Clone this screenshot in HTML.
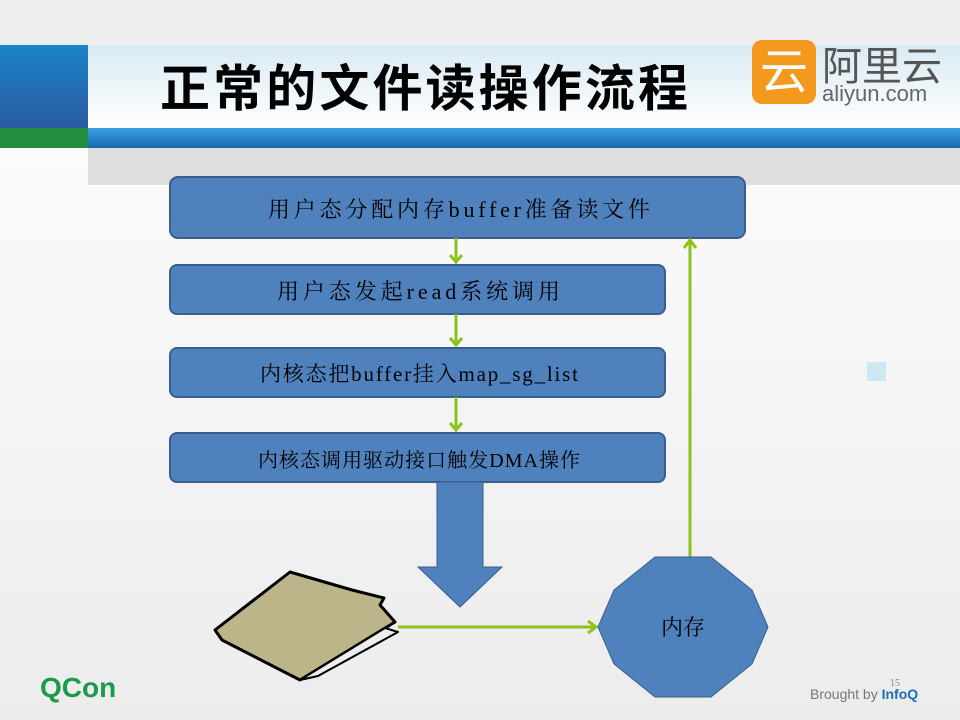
<!DOCTYPE html>
<html><head><meta charset="utf-8"><style>
body{margin:0;width:960px;height:720px;overflow:hidden;background:#fff}
svg{display:block}
text{font-family:"Liberation Serif","Noto Serif CJK SC",serif}
</style></head><body>
<svg width="960" height="720" viewBox="0 0 960 720">
<defs>
<linearGradient id="bg" x1="0" y1="0" x2="0" y2="1"><stop offset="0" stop-color="#ffffff"/><stop offset="1" stop-color="#ececec"/></linearGradient>
<linearGradient id="tt" x1="0" y1="0" x2="0" y2="1"><stop offset="0" stop-color="#d9eaf3"/><stop offset="1" stop-color="#ffffff"/></linearGradient>
<linearGradient id="lb" x1="0" y1="0" x2="0" y2="1"><stop offset="0" stop-color="#1b84c8"/><stop offset="1" stop-color="#2a5aa0"/></linearGradient>
<linearGradient id="bb" x1="0" y1="0" x2="0" y2="1"><stop offset="0" stop-color="#3aa4e0"/><stop offset="1" stop-color="#1766b0"/></linearGradient>
</defs>
<rect width="960" height="720" fill="url(#bg)"/>
<rect y="0" width="960" height="45" fill="#eeeeee"/>
<rect x="88" y="45" width="872" height="83" fill="url(#tt)"/>
<rect x="0" y="45" width="88" height="83" fill="url(#lb)"/>
<rect x="0" y="128" width="88" height="20" fill="#23903f"/>
<rect x="88" y="128" width="872" height="20" fill="url(#bb)"/>
<rect x="88" y="148" width="872" height="37" fill="#dedede"/>
<text x="160" y="106" font-size="50" font-weight="bold" fill="#000" textLength="528" lengthAdjust="spacing" style="font-family:'Liberation Sans','Noto Sans CJK SC',sans-serif">正常的文件读操作流程</text>
<rect x="752" y="40" width="64" height="64" rx="10" fill="#f39a1e"/>
<text x="784" y="88" text-anchor="middle" font-size="48" fill="#fff" style="font-family:'Noto Sans CJK SC',sans-serif">云</text>
<text x="822" y="80" font-size="40" fill="#555" style="font-family:'Noto Sans CJK SC',sans-serif">阿里云</text>
<text x="822" y="101" font-size="22" fill="#666" style="font-family:'Liberation Sans',sans-serif">aliyun.com</text>
<g fill="#4f81bd" stroke="#3a5f8e" stroke-width="2">
<rect x="170" y="177" width="575" height="61" rx="8"/>
<rect x="170" y="265" width="495" height="49" rx="7"/>
<rect x="170" y="348" width="495" height="49" rx="7"/>
<rect x="170" y="433" width="495" height="49" rx="7"/>
</g>
<g font-size="22" fill="#000">
<text x="268" y="217" textLength="382" lengthAdjust="spacing">用户态分配内存buffer准备读文件</text>
<text x="277" y="299" textLength="283" lengthAdjust="spacing">用户态发起read系统调用</text>
<text x="260" y="381" font-size="21" textLength="318" lengthAdjust="spacing">内核态把buffer挂入map_sg_list</text>
<text x="258" y="467" font-size="20" textLength="322" lengthAdjust="spacing">内核态调用驱动接口触发DMA操作</text>
</g>
<g stroke="#8cc21a" stroke-width="3" fill="none">
<line x1="456" y1="238" x2="456" y2="262"/><polyline points="450,255 456,262 462,255"/>
<line x1="456" y1="314" x2="456" y2="345"/><polyline points="450,338 456,345 462,338"/>
<line x1="456" y1="397" x2="456" y2="430"/><polyline points="450,423 456,430 462,423"/>
<line x1="690" y1="557" x2="690" y2="240"/><polyline points="684,248 690,240 696,248"/>
<line x1="398" y1="627" x2="596" y2="627"/><polyline points="588,621 596,627 588,633"/>
</g>
<polygon points="437,482 483,482 483,567 502,567 460,607 418,567 437,567" fill="#4f81bd" stroke="#3a5f8e" stroke-width="1"/>
<polygon points="655,557 711,557 752,590 768,627 752,664 711,697 655,697 614,664 598,627 614,590" fill="#4f81bd" stroke="#3a5f8e" stroke-width="1"/>
<text x="683" y="635" font-size="22" text-anchor="middle" fill="#000">内存</text>
<g stroke="#000" stroke-width="3" stroke-linejoin="round">
<polygon points="222,640 300,680 395,622 380,605 384,598 352,590 290,572 215,630" fill="#bdb58a"/>
<polygon points="300,680 385,628 398,632 318,676" fill="#eee" stroke-width="2"/>
</g>
<text x="40" y="697" font-size="28" font-weight="bold" fill="#1a9a4a" style="font-family:'Liberation Sans',sans-serif">QCon</text>
<rect x="867" y="362" width="19" height="19" fill="#cde8f4"/>
<text x="890" y="686" font-size="10" fill="#888">15</text>
<text x="810" y="699" font-size="14" fill="#777" style="font-family:'Liberation Sans',sans-serif">Brought by <tspan font-weight="bold" fill="#1a6fb8">InfoQ</tspan></text>
</svg>
</body></html>
